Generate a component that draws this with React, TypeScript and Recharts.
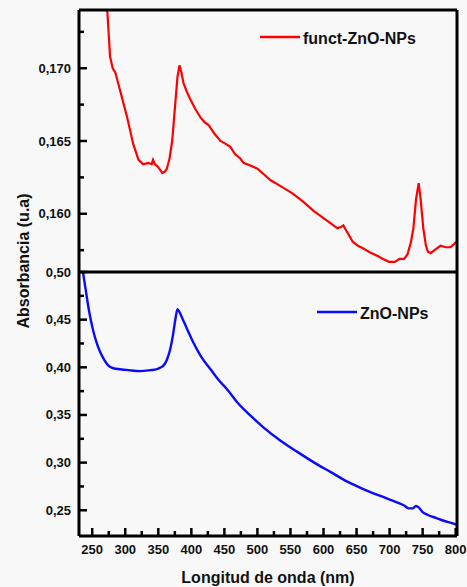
import { LineChart, Line, XAxis, YAxis, Legend } from "recharts";

// wavelength (nm) / absorbance
const WAVE_FUNCT = [
  268, 273, 277, 281, 285, 292, 303, 312, 320, 327, 335, 340, 342, 345, 350, 356, 360, 363, 367, 371,
  375, 379, 382, 385, 388, 393, 398, 406, 414, 420, 426, 435, 444, 452, 459, 466, 474, 479, 490, 500,
  510, 520, 535, 553, 570, 585, 600, 612, 621, 627, 630, 635, 644, 652, 661, 672, 682, 690, 699, 708,
  715, 722, 727, 732, 736, 740, 744, 747, 751, 755, 758, 762, 768, 777, 785, 792, 797, 802,
];
const ABS_FUNCT = [
  0.1762, 0.1738, 0.1708, 0.17, 0.1697, 0.1685, 0.1666, 0.1648, 0.1637, 0.1634, 0.1635, 0.1634, 0.1637, 0.1634,
  0.1632, 0.1628, 0.1629, 0.1631, 0.1638, 0.165, 0.1672, 0.1694, 0.1702, 0.1697, 0.169, 0.1684, 0.1679, 0.1672,
  0.1666, 0.1663, 0.1661, 0.1655, 0.165, 0.1648, 0.1646, 0.1641, 0.1638, 0.1635, 0.1633, 0.1631, 0.1627, 0.1623,
  0.1619, 0.1614, 0.1608, 0.1602, 0.1597, 0.1593, 0.159, 0.1591, 0.1592, 0.1588, 0.1581, 0.1578, 0.1576, 0.1573,
  0.1571, 0.1569, 0.1567, 0.1567, 0.1569, 0.1569, 0.1572, 0.158, 0.159, 0.161, 0.1621, 0.161, 0.159, 0.1578,
  0.1574, 0.1573, 0.1575, 0.1578, 0.1577, 0.1577, 0.1579, 0.1581,
];

const WAVE_ZNO = [
  236, 240, 244, 248, 252, 257, 262, 268, 274, 282, 292, 305, 323, 338, 348, 354, 358, 363, 368, 372,
  376, 379, 382, 386, 393, 403, 415, 429, 441, 454, 471, 490, 509, 535, 561, 586, 611, 636, 661, 686,
  712, 722, 729, 735, 740, 744, 750, 758, 770, 782, 792, 801,
];
const ABS_ZNO = [
  0.5, 0.482, 0.464, 0.449, 0.437, 0.425, 0.416, 0.408, 0.402, 0.399, 0.398, 0.397, 0.396, 0.397, 0.398, 0.4,
  0.402, 0.408, 0.419, 0.433, 0.451, 0.461, 0.458, 0.452, 0.441, 0.426, 0.411, 0.398, 0.387, 0.377, 0.362, 0.349,
  0.337, 0.323, 0.311, 0.3, 0.29, 0.28, 0.272, 0.265, 0.258, 0.255, 0.252, 0.252, 0.2545, 0.253, 0.248, 0.245,
  0.242, 0.239, 0.237, 0.235,
];

const X_MAJOR = [250, 300, 350, 400, 450, 500, 550, 600, 650, 700, 750, 800];
const X_MINOR = [275, 325, 375, 425, 475, 525, 575, 625, 675, 725, 775];
const TOP_MAJOR = [0.16, 0.165, 0.17];
const TOP_MINOR = [0.1575, 0.1625, 0.1675, 0.1725];
const BOT_MAJOR = [0.25, 0.3, 0.35, 0.4, 0.45, 0.5];
const BOT_MINOR = [0.275, 0.325, 0.375, 0.425, 0.475];

const FONT = '"Liberation Sans", Arial, sans-serif';
const FRAME = { stroke: "#000", strokeWidth: 3 };
const X_DOMAIN = [230, 802];

const functData = WAVE_FUNCT.map((wl, i) => ({ wl, abs: ABS_FUNCT[i] }));
const znoData = WAVE_ZNO.map((wl, i) => ({ wl, abs: ABS_ZNO[i] }));

function XTick({ x, y, payload }: any) {
  const major = X_MAJOR.includes(payload.value);
  return (
    <g>
      <line x1={x} x2={x} y1={y} y2={y - (major ? 8 : 5)} stroke="#000" strokeWidth={2.5} />
      {major && (
        <text x={x} y={y + 18} textAnchor="middle" fontSize={13} fontWeight="bold" fontFamily={FONT} fill="#111">
          {payload.value}
        </text>
      )}
    </g>
  );
}

function makeYTick(major: number[], digits: number) {
  return ({ x, y, payload }: any) => {
    const isMajor = major.includes(payload.value);
    return (
      <g>
        <line x1={x} x2={x + (isMajor ? 8 : 5)} y1={y} y2={y} stroke="#000" strokeWidth={2.5} />
        {isMajor && (
          <text x={x - 8} y={y + 4.5} textAnchor="end" fontSize={13} fontWeight="bold" fontFamily={FONT} fill="#111">
            {payload.value.toFixed(digits).replace(".", ",")}
          </text>
        )}
      </g>
    );
  };
}

const TopYTick = makeYTick(TOP_MAJOR, 3);
const BotYTick = makeYTick(BOT_MAJOR, 2);

function LegendItem({ color, name, width }: { color: string; name: string; width: number }) {
  return (
    <svg width={width} height={26} style={{ display: "block", overflow: "visible" }}>
      <line x1={2} x2={42} y1={12} y2={12} stroke={color} strokeWidth={2.5} />
      <text x={45} y={19} fontSize={16} fontWeight="bold" fontFamily={FONT} fill="#111">
        {name}
      </text>
    </svg>
  );
}

function XTitle() {
  return (
    <text x={268} y={583} textAnchor="middle" fontSize={16} fontWeight="bold" fontFamily={FONT} fill="#111">
      Longitud de onda (nm)
    </text>
  );
}

function YTitle() {
  return (
    <text
      x={29}
      y={261}
      transform="rotate(-90, 29, 261)"
      textAnchor="middle"
      fontSize={16}
      fontWeight="bold"
      fontFamily={FONT}
      fill="#111"
    >
      Absorbancia (u.a)
    </text>
  );
}

export default function App() {
  return (
    <div style={{ position: "absolute", left: 0, top: 0, width: 467, height: 587, background: "#f8f8f8" }}>
      {/* upper panel: functionalised particles */}
      <div style={{ position: "absolute", left: 0, top: 0 }}>
        <LineChart width={467} height={282} data={functData} margin={{ top: 0, right: 0, bottom: 10, left: 0 }}>
          <XAxis
            xAxisId="x"
            type="number"
            dataKey="wl"
            domain={X_DOMAIN}
            orientation="top"
            height={10}
            tick={false}
            tickLine={false}
            axisLine={FRAME}
            allowDataOverflow
          />
          <YAxis
            yAxisId="l"
            type="number"
            domain={[0.156, 0.174]}
            ticks={[...TOP_MAJOR, ...TOP_MINOR].sort((a, b) => a - b)}
            interval={0}
            width={79}
            tick={<TopYTick />}
            tickSize={0}
            tickMargin={0}
            tickLine={false}
            axisLine={FRAME}
            allowDataOverflow
          />
          <YAxis
            yAxisId="r"
            orientation="right"
            type="number"
            domain={[0.156, 0.174]}
            width={10}
            tick={false}
            tickLine={false}
            axisLine={FRAME}
          />
          <Line
            xAxisId="x"
            yAxisId="l"
            dataKey="abs"
            stroke="#ff0000"
            strokeWidth={2.2}
            dot={false}
            type="linear"
            isAnimationActive={false}
          />
          <Legend
            layout="horizontal"
            verticalAlign="middle"
            wrapperStyle={{ left: 258, top: 25, width: 180 }}
            content={() => <LegendItem color="#ff0000" name="funct-ZnO-NPs" width={180} />}
          />
        </LineChart>
      </div>

      {/* lower panel: bare ZnO particles */}
      <div style={{ position: "absolute", left: 0, top: 0 }}>
        <LineChart width={467} height={587} data={znoData} margin={{ top: 262, right: 0, bottom: 0, left: 0 }}>
          <XAxis
            xAxisId="t"
            type="number"
            dataKey="wl"
            domain={X_DOMAIN}
            orientation="top"
            height={10}
            tick={false}
            tickLine={false}
            axisLine={FRAME}
            allowDataOverflow
          />
          <XAxis
            xAxisId="b"
            type="number"
            dataKey="wl"
            domain={X_DOMAIN}
            ticks={[...X_MAJOR, ...X_MINOR].sort((a, b) => a - b)}
            interval={0}
            height={51}
            tick={<XTick />}
            tickSize={0}
            tickMargin={0}
            tickLine={false}
            axisLine={FRAME}
            allowDataOverflow
            label={<XTitle />}
          />
          <YAxis
            yAxisId="l"
            type="number"
            domain={[0.223, 0.5]}
            ticks={[...BOT_MAJOR, ...BOT_MINOR].sort((a, b) => a - b)}
            interval={0}
            width={79}
            tick={<BotYTick />}
            tickSize={0}
            tickMargin={0}
            tickLine={false}
            axisLine={FRAME}
            allowDataOverflow
            label={<YTitle />}
          />
          <YAxis
            yAxisId="r"
            orientation="right"
            type="number"
            domain={[0.223, 0.5]}
            width={10}
            tick={false}
            tickLine={false}
            axisLine={FRAME}
          />
          <Line
            xAxisId="b"
            yAxisId="l"
            dataKey="abs"
            stroke="#0a0aff"
            strokeWidth={2.4}
            dot={false}
            type="monotone"
            isAnimationActive={false}
          />
          <Legend
            layout="horizontal"
            verticalAlign="middle"
            wrapperStyle={{ left: 315, top: 300, width: 130 }}
            content={() => <LegendItem color="#0a0aff" name="ZnO-NPs" width={130} />}
          />
        </LineChart>
      </div>
    </div>
  );
}
